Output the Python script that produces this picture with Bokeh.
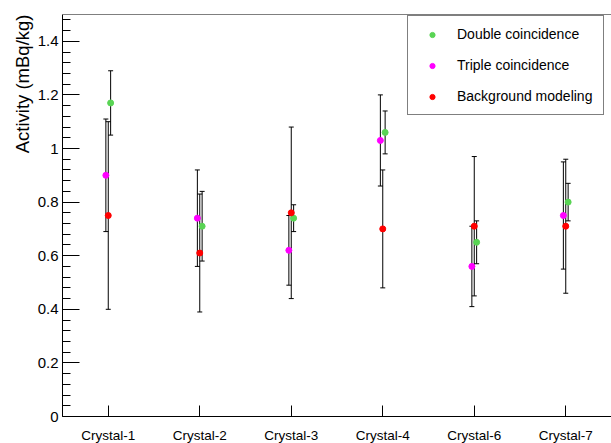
from bokeh.plotting import figure
from bokeh.models import (ColumnDataSource, Whisker, TeeHead, Legend, LegendItem,
                          FixedTicker, CustomJSTickFormatter, Title, Range1d, FactorRange, Span)
from bokeh.transform import dodge
from bokeh.embed import file_html
from bokeh.resources import INLINE

# ---------------- data ----------------
crystals = ["Crystal-1", "Crystal-2", "Crystal-3", "Crystal-4", "Crystal-6", "Crystal-7"]

double_val = [1.17, 0.71, 0.74, 1.06, 0.65, 0.80]
double_err = [0.12, 0.13, 0.05, 0.08, 0.08, 0.07]

triple_val = [0.90, 0.74, 0.62, 1.03, 0.56, 0.75]
triple_err = [0.21, 0.18, 0.13, 0.17, 0.15, 0.20]

bkg_val = [0.75, 0.61, 0.76, 0.70, 0.71, 0.71]
bkg_err = [0.35, 0.22, 0.32, 0.22, 0.26, 0.25]

y_ticks = [0, 0.2, 0.4, 0.6, 0.8, 1, 1.2, 1.4]
y_minor = [round(i * 0.04, 2) for i in range(0, 38)]
y_max = 1.5

y_title = "Activity (mBq/kg)"

# ---------------- style ----------------
FONT = "Liberation Sans"
series = [
    ("Double coincidence", double_val, double_err, "#59D454", 0.026),
    ("Triple coincidence", triple_val, triple_err, "#FF00FF", -0.026),
    ("Background modeling", bkg_val, bkg_err, "#FF0000", 0.0),
]

p = figure(
    x_range=FactorRange(factors=crystals, range_padding=0),
    y_range=Range1d(0, y_max),
    frame_width=549, frame_height=402,
    min_border_left=62, min_border_right=0, min_border_top=14, min_border_bottom=27,
    output_backend="svg", toolbar_location=None,
)
p.background_fill_color = "white"
p.border_fill_color = "white"
p.outline_line_color = None
p.xgrid.visible = False
p.ygrid.visible = False

# top frame line (frame continues past the right edge of the picture)
p.add_layout(Span(location=y_max, dimension="width", line_color="black", line_width=1))

# x axis
xa = p.xaxis[0]
xa.major_tick_in = 11
xa.major_tick_out = 0
xa.minor_tick_line_color = None
xa.axis_line_color = "black"
xa.major_tick_line_color = "black"
xa.major_label_text_font = FONT
xa.major_label_text_font_size = "13.5px"
xa.major_label_text_color = "black"
xa.major_label_standoff = 11

# y axis
ya = p.yaxis[0]
ya.ticker = FixedTicker(ticks=y_ticks, minor_ticks=y_minor)
ya.formatter = CustomJSTickFormatter(code="return tick.toString();")
ya.major_tick_in = 17
ya.major_tick_out = 0
ya.minor_tick_in = 8
ya.minor_tick_out = 0
ya.axis_line_color = "black"
ya.major_tick_line_color = "black"
ya.minor_tick_line_color = "black"
ya.major_label_text_font = FONT
ya.major_label_text_font_size = "15px"
ya.major_label_text_color = "black"
ya.major_label_standoff = 4

sources = []
for name, vals, errs, color, off in series:
    src = ColumnDataSource(data=dict(
        crystal=crystals,
        val=vals,
        upper=[v + e for v, e in zip(vals, errs)],
        lower=[v - e for v, e in zip(vals, errs)],
    ))
    sources.append(src)
    w = Whisker(
        base=dodge("crystal", off, range=p.x_range), upper="upper", lower="lower",
        source=src, dimension="height", line_color="black", line_width=1,
        upper_head=TeeHead(size=5, line_color="black", line_width=1),
        lower_head=TeeHead(size=5, line_color="black", line_width=1),
    )
    p.add_layout(w)

items = []
for (name, vals, errs, color, off), src in zip(series, sources):
    r = p.scatter(x=dodge("crystal", off, range=p.x_range), y="val", source=src,
                  size=6, fill_color=color, line_color=color, marker="circle")
    items.append(LegendItem(label=name, renderers=[r]))

legend = Legend(
    items=items, location=(345, 301),
    padding=8, spacing=11, margin=0,
    label_height=20, glyph_height=13, glyph_width=32, label_width=138,
    label_standoff=9,
    label_text_font=FONT, label_text_font_size="14px", label_text_color="black",
    label_text_baseline="middle",
    border_line_color="black", border_line_width=1,
    background_fill_color="white", background_fill_alpha=1.0,
)
p.add_layout(legend)

p.add_layout(Title(
    text=y_title, align="right", text_font=FONT, text_font_size="18.5px",
    text_font_style="normal", text_color="black", standoff=4,
), "left")

open("out.html", "w").write(file_html(p, INLINE))
